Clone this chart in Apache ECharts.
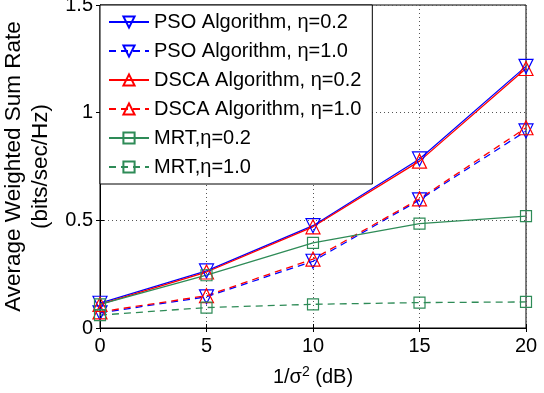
<!DOCTYPE html>
<html><head><meta charset="utf-8">
<script src="https://cdn.jsdelivr.net/npm/echarts@6/dist/echarts.min.js"></script>
<style>html,body{margin:0;padding:0;background:#fff}#c{width:544px;height:393px}</style>
</head><body><div id="c"></div>
<script>
const xCats = [0, 5, 10, 15, 20];
const psoEta02 = [0.115, 0.265, 0.475, 0.785, 1.215];
const psoEta10 = [0.07, 0.145, 0.31, 0.595, 0.915];
const dscaEta02 = [0.11, 0.26, 0.47, 0.775, 1.205];
const dscaEta10 = [0.075, 0.15, 0.32, 0.6, 0.93];
const mrtEta02 = [0.11, 0.245, 0.395, 0.485, 0.52];
const mrtEta10 = [0.06, 0.095, 0.11, 0.118, 0.121];
const names = ['PSO Algorithm, η=0.2','PSO Algorithm, η=1.0','DSCA Algorithm, η=0.2','DSCA Algorithm, η=1.0','MRT,η=0.2','MRT,η=1.0'];

const BLUE = '#0000ff', RED = '#ff0000', GREEN = '#2e8b57';
function mk(name, data, color, dashed, symbol, rot, size) {
  return {
    name, type: 'line', data: xCats.map((x, i) => [x, data[i]]),
    symbol, symbolRotate: rot, symbolSize: size,
    showAllSymbol: true,
    lineStyle: { color, width: 1.3, type: dashed ? [7, 5] : 'solid' },
    itemStyle: { color: 'rgba(255,255,255,0)', borderColor: color, borderWidth: 1.2 },
    emphasis: { disabled: true }, z: 3
  };
}
const chart = echarts.init(document.getElementById('c'));
const font = 'Liberation Sans, Arial, Helvetica, sans-serif';
chart.setOption({
  animation: false,
  backgroundColor: '#fff',
  textStyle: { fontFamily: font },
  grid: { left: 100, right: 18, top: 5, bottom: 65, containLabel: false, outerBoundsMode: 'none', show: true, borderColor: '#000', borderWidth: 1, backgroundColor: 'transparent' },
  legend: {
    orient: 'vertical', left: 100, top: 5, itemWidth: 40, itemHeight: 14, itemGap: 9,
    padding: [7, 11, 7, 8],
    backgroundColor: '#fff', borderColor: '#000', borderWidth: 1,
    textStyle: { fontSize: 20, lineHeight: 20, color: '#000', fontFamily: font },
    data: names
  },
  xAxis: [{
    type: 'value', min: 0, max: 20, interval: 5,
    name: '{a|1/σ}{s|2}{a| (dB)}', nameLocation: 'middle', nameGap: 37,
    nameTextStyle: { rich: { a: { fontSize: 20, color: '#000', fontFamily: font }, s: { fontSize: 14, color: '#000', verticalAlign: 'top', padding: [0, 0, 10, 0], fontFamily: font } } },
    axisLine: { lineStyle: { color: '#000' } },
    axisTick: { inside: true, length: 4, lineStyle: { color: '#000' } },
    axisLabel: { fontSize: 20, color: '#000', margin: 8 },
    splitLine: { show: true, lineStyle: { color: '#555', type: [1, 3], width: 1 } }
  }, {
    type: 'value', min: 0, max: 20, interval: 5, position: 'top',
    axisLine: { show: false }, axisTick: { inside: true, length: 4, lineStyle: { color: '#000' } },
    axisLabel: { show: false }, splitLine: { show: false }
  }],
  yAxis: [{
    type: 'value', min: 0, max: 1.5, interval: 0.5,
    name: 'Average Weighted Sum Rate\n(bits/sec/Hz)', nameLocation: 'middle', nameGap: 32,
    nameTextStyle: { fontSize: 22.5, color: '#000', lineHeight: 27, fontFamily: font },
    axisLine: { lineStyle: { color: '#000' } },
    axisTick: { inside: true, length: 4, lineStyle: { color: '#000' } },
    axisLabel: { fontSize: 20, color: '#000', margin: 7 },
    splitLine: { show: true, lineStyle: { color: '#555', type: [1, 3], width: 1 } }
  }, {
    type: 'value', min: 0, max: 1.5, interval: 0.5, position: 'right',
    axisLine: { show: false }, axisTick: { inside: true, length: 4, lineStyle: { color: '#000' } },
    axisLabel: { show: false }, splitLine: { show: false }
  }],
  series: [
    mk(names[0], psoEta02, BLUE, false, 'triangle', 180, 14),
    mk(names[1], psoEta10, BLUE, true, 'triangle', 180, 14),
    mk(names[2], dscaEta02, RED, false, 'triangle', 0, 14),
    mk(names[3], dscaEta10, RED, true, 'triangle', 0, 14),
    mk(names[4], mrtEta02, GREEN, false, 'rect', 0, 11),
    mk(names[5], mrtEta10, GREEN, true, 'rect', 0, 11)
  ]
});
</script></body></html>
